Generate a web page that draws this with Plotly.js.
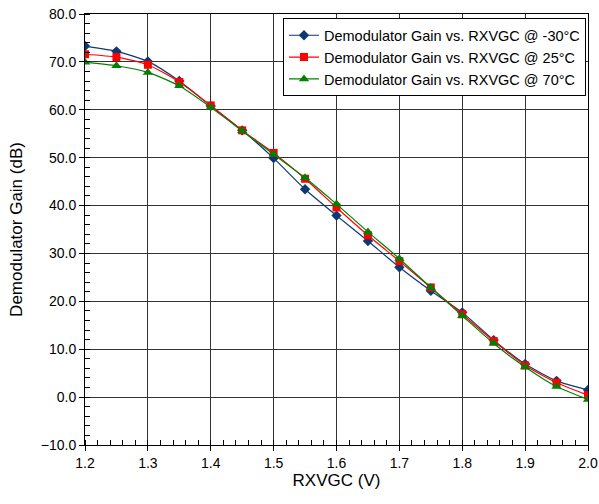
<!DOCTYPE html>
<html>
<head>
<meta charset="utf-8">
<script src="https://cdn.plot.ly/plotly-3.0.1.min.js"></script>
<style>html,body{margin:0;padding:0;background:#fff;}#chart{width:599px;height:504px;}</style>
</head>
<body>
<div id="chart"></div>
<script>
var rxvgc = [1.2,1.25,1.3,1.35,1.4,1.45,1.5,1.55,1.6,1.65,1.7,1.75,1.8,1.85,1.9,1.95,2.0];
var gainM30 = [73.3,72.2,70.1,66.0,60.8,55.7,49.9,43.4,37.9,32.6,27.1,22.2,17.7,11.9,6.9,3.4,1.5];
var gain25  = [71.6,71.0,69.4,65.8,60.9,55.7,51.0,45.6,39.6,33.8,28.4,22.9,17.3,11.7,6.6,3.0,0.4];
var gain70  = [69.9,69.2,67.8,65.0,60.5,55.6,50.7,45.8,40.3,34.5,28.9,22.9,17.0,11.2,6.3,2.2,-0.5];
var seriesNames = ["Demodulator Gain vs. RXVGC @ -30°C","Demodulator Gain vs. RXVGC @ 25°C","Demodulator Gain vs. RXVGC @ 70°C"];

var font = "Liberation Sans, Arial, sans-serif";
var traces = [
  {x: rxvgc, y: gainM30, name: seriesNames[0], mode: "lines+markers",
   line: {color: "#0b3a73", width: 1.2, shape: "spline", smoothing: 0.6},
   marker: {symbol: "diamond", size: 8, color: "#0b3a73"}},
  {x: rxvgc, y: gain25, name: seriesNames[1], mode: "lines+markers",
   line: {color: "#ff0000", width: 1.2, shape: "spline", smoothing: 0.6},
   marker: {symbol: "square", size: 8, color: "#ff0000"}},
  {x: rxvgc, y: gain70, name: seriesNames[2], mode: "lines+markers",
   line: {color: "#008000", width: 1.2, shape: "spline", smoothing: 0.6},
   marker: {symbol: "triangle-up", size: 9, color: "#008000"}}
];

var layout = {
  width: 599, height: 504,
  margin: {l: 85, r: 11, t: 14, b: 59},
  paper_bgcolor: "#fff", plot_bgcolor: "#fff",
  font: {family: font, size: 14, color: "#000"},
  showlegend: true,
  legend: {x: 0.996, xanchor: "right", y: 0.99, yanchor: "top",
           bgcolor: "#fff", bordercolor: "#000", borderwidth: 1,
           font: {family: font, size: 14.5, color: "#000"}},
  xaxis: {
    range: [1.2, 2.0], dtick: 0.1, tick0: 1.2, tickformat: ".1f",
    showline: true, linecolor: "#000", linewidth: 1, mirror: true,
    ticks: "outside", ticklen: 5, tickcolor: "#000",
    showgrid: true, gridcolor: "#333", gridwidth: 1, zeroline: false,
    minor: {ticks: "inside", ticklen: 5, dtick: 0.02, tickcolor: "#000", showgrid: false},
    title: {text: "RXVGC (V)", font: {family: font, size: 17}, standoff: 4},
    automargin: false
  },
  yaxis: {
    range: [-10, 80], dtick: 10, tickformat: ".1f",
    showline: true, linecolor: "#000", linewidth: 1, mirror: true,
    ticks: "outside", ticklen: 5, tickcolor: "#000",
    showgrid: true, gridcolor: "#333", gridwidth: 1, zeroline: false,
    minor: {ticks: "inside", ticklen: 5, dtick: 2, tickcolor: "#000", showgrid: false},
    title: {text: "Demodulator Gain (dB)", font: {family: font, size: 17}, standoff: 13},
    automargin: false
  }
};
Plotly.newPlot("chart", traces, layout, {displayModeBar: false, staticPlot: true});
</script>
</body>
</html>
